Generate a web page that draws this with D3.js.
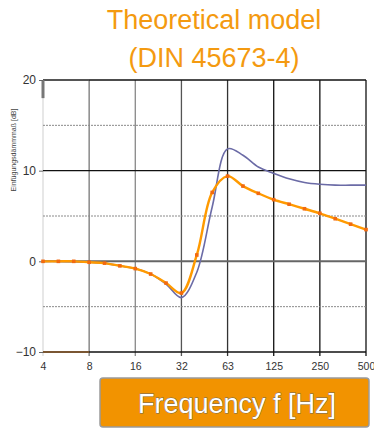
<!DOCTYPE html>
<html>
<head>
<meta charset="utf-8">
<script src="https://cdn.jsdelivr.net/npm/d3@7"></script>
<style>
  body { margin: 0; background: #fff; }
  svg { display: block; font-family: "Liberation Sans", Arial, sans-serif; }
</style>
</head>
<body>
<script>
// octave tick labels (Hz)
const tickLabels = ["4", "8", "16", "32", "63", "125", "250", "500"];
// third-octave band centre frequencies
const freqs = [4, 5, 6.3, 8, 10, 12.5, 16, 20, 25, 31.5, 40, 50, 63, 80, 100, 125, 160, 200, 250, 315, 400, 500];
// orange: theoretical model (DIN 45673-4)
const modelValues = [0, 0, 0, -0.1, -0.2, -0.5, -0.8, -1.4, -2.4, -3.5, 0.7, 7.6, 9.4, 8.3, 7.5, 6.8, 6.3, 5.8, 5.3, 4.7, 4.1, 3.5];
// purple: comparison curve
const refValues = [0, 0, -0.05, -0.1, -0.2, -0.5, -0.8, -1.4, -2.5, -4.0, -1.2, 6.0, 12.4, 11.7, 10.4, 9.7, 9.1, 8.7, 8.5, 8.4, 8.4, 8.4];
const yTicks = [20, 10, 0, -10];
const yMinor = [15, 5, -5];

const width = 374, height = 430;
const svg = d3.select("body").append("svg")
    .attr("width", width)
    .attr("height", height);

// x position is the band index counted in octaves from 4 Hz
const x = d3.scaleLinear().domain([0, 7]).range([43, 366]);
const y = d3.scaleLinear().domain([-10, 20]).range([352, 80]);

// title
const title = svg.append("text")
    .attr("text-anchor", "middle")
    .attr("fill", "#f49a10")
    .style("font-size", "27px");
title.append("tspan").attr("x", 214).attr("y", 29).text("Theoretical model");
title.append("tspan").attr("x", 214).attr("y", 67).text("(DIN 45673-4)");

// vertical grid lines
const vColors = ["#cfcfcf", "#777", "#888", "#555", "#333", "#111", "#111", "#111"];
svg.append("g").selectAll("line")
    .data(tickLabels)
    .enter().append("line")
    .attr("x1", (d, i) => x(i))
    .attr("x2", (d, i) => x(i))
    .attr("y1", y(20))
    .attr("y2", y(-10) + 4)
    .attr("stroke", (d, i) => vColors[i])
    .attr("stroke-width", (d, i) => i == 0 ? 1 : 1.3);

// minor horizontal lines (dotted gray)
svg.append("g").selectAll("line")
    .data(yMinor)
    .enter().append("line")
    .attr("x1", x(0))
    .attr("x2", x(7))
    .attr("y1", d => y(d))
    .attr("y2", d => y(d))
    .attr("stroke", "#8a8a8a")
    .attr("stroke-width", 1)
    .attr("stroke-dasharray", "2,1");

// major horizontal lines
svg.append("g").selectAll("line")
    .data(yTicks)
    .enter().append("line")
    .attr("x1", x(0))
    .attr("x2", x(7))
    .attr("y1", d => y(d))
    .attr("y2", d => y(d))
    .attr("stroke", d => d == 0 ? "#666" : "#111")
    .attr("stroke-width", d => d == 0 ? 2 : 1.3);

// left part of top and bottom lines drawn in other colours like the original
svg.append("line")
    .attr("x1", x(0)).attr("x2", x(1))
    .attr("y1", y(20)).attr("y2", y(20))
    .attr("stroke", "#555").attr("stroke-width", 2);
svg.append("line")
    .attr("x1", x(0)).attr("x2", x(0))
    .attr("y1", y(20)).attr("y2", y(18))
    .attr("stroke", "#777").attr("stroke-width", 3);
svg.append("line")
    .attr("x1", x(0)).attr("x2", x(1))
    .attr("y1", y(-10)).attr("y2", y(-10))
    .attr("stroke", "#7a5632").attr("stroke-width", 2.2);

// y axis ticks and labels
const yAxis = d3.axisLeft(y)
    .tickValues(yTicks)
    .tickSize(4)
    .tickPadding(3);
const gy = svg.append("g")
    .attr("transform", "translate(" + x(0) + ",0)")
    .call(yAxis);
gy.select(".domain").remove();
gy.selectAll(".tick line").attr("stroke", "#666");
gy.selectAll(".tick text")
    .attr("fill", "#333")
    .style("font-size", "12px")
    .style("font-family", "Liberation Sans, Arial, sans-serif");

// x axis ticks and labels
const xAxis = d3.axisBottom(x)
    .tickValues(d3.range(tickLabels.length))
    .tickFormat(i => tickLabels[i])
    .tickSize(0)
    .tickPadding(11);
const gx = svg.append("g")
    .attr("transform", "translate(0," + y(-10) + ")")
    .call(xAxis);
gx.select(".domain").remove();
gx.selectAll(".tick text")
    .attr("fill", "#333")
    .style("font-size", "10.5px")
    .style("font-family", "Liberation Sans, Arial, sans-serif");

// y axis title
svg.append("text")
    .attr("transform", "translate(16,150) rotate(-90)")
    .attr("text-anchor", "middle")
    .attr("fill", "#444")
    .style("font-size", "7px")
    .text("Einfügungsdämmmaß [dB]");

// curves
const line = d3.line()
    .x((d, i) => x(i / 3))
    .y(d => y(d))
    .curve(d3.curveCatmullRom.alpha(0.5));

svg.append("path")
    .datum(refValues)
    .attr("d", line)
    .attr("fill", "none")
    .attr("stroke", "#6b6ba6")
    .attr("stroke-width", 1.6);

svg.append("path")
    .datum(modelValues)
    .attr("d", line)
    .attr("fill", "none")
    .attr("stroke", "#ff9a00")
    .attr("stroke-width", 2.4);

svg.append("g").selectAll("rect")
    .data(modelValues)
    .enter().append("rect")
    .attr("x", (d, i) => x(i / 3) - 1.8)
    .attr("y", d => y(d) - 1.8)
    .attr("width", 3.6)
    .attr("height", 3.6)
    .attr("fill", "#f26a10");

// x axis title box
svg.append("rect")
    .attr("x", 100).attr("y", 378)
    .attr("width", 269).attr("height", 49)
    .attr("rx", 3)
    .attr("fill", "#f29300")
    .attr("stroke", "#9a9a9a")
    .attr("stroke-width", 1.5);

svg.append("text")
    .attr("x", 237)
    .attr("y", 413)
    .attr("text-anchor", "middle")
    .attr("fill", "#fff")
    .attr("stroke", "#666")
    .attr("stroke-width", 0.8)
    .attr("paint-order", "stroke")
    .style("font-size", "27px")
    .text("Frequency f [Hz]");
</script>
</body>
</html>
